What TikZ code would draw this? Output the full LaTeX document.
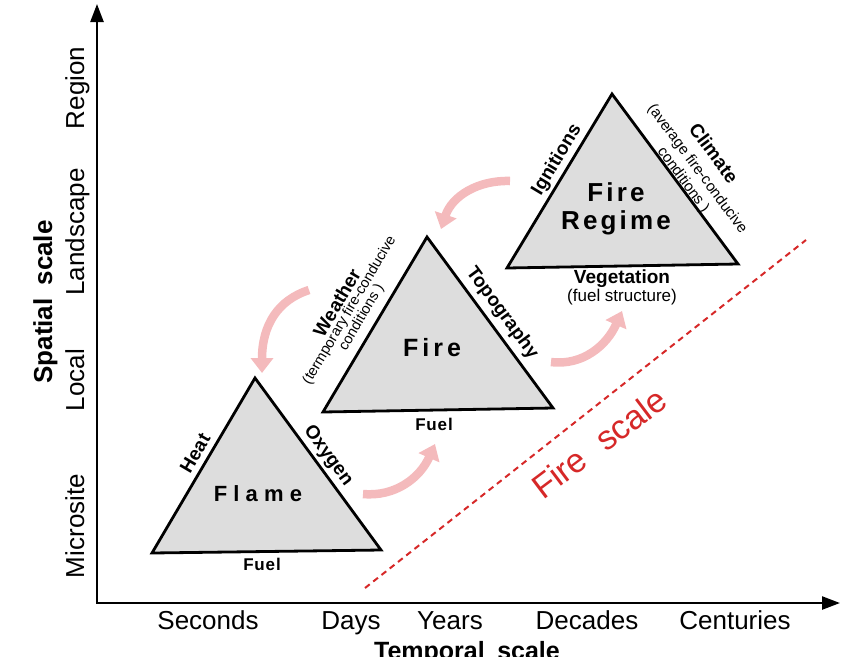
\documentclass[tikz,border=0pt]{standalone}
\usepackage{fontspec}
\setmainfont{Liberation Sans}
\usetikzlibrary{arrows.meta}
\definecolor{trigray}{RGB}{221,221,221}
\definecolor{pinkarr}{RGB}{244,186,188}
\definecolor{firered}{RGB}{214,40,40}
\begin{document}
\begin{tikzpicture}[x=1pt,y=-1pt,
  tri/.style={draw=black, line width=2.8pt, fill=trigray, line join=miter},
  axisline/.style={line width=2.4pt, {Triangle[width=13pt,length=18pt]}-{Triangle[width=13pt,length=18pt]}},
  flow/.style={draw=pinkarr, line width=8.5pt, -{Triangle[width=22pt,length=15pt]}},
  ticklab/.style={font=\fontsize{26}{26}\selectfont, anchor=base, inner sep=0pt},
  vlab/.style={font=\fontsize{26}{26}\selectfont, anchor=base, rotate=90, inner sep=0pt},
  sidelab/.style={font=\fontsize{19}{19}\selectfont\bfseries, inner sep=0pt},
  parenlab/.style={font=\fontsize{15}{15}\selectfont, inner sep=0pt},
  bigword/.style={inner sep=0pt, text=black}
]
\useasboundingbox (0,0) rectangle (858,656);

% axes
\coordinate (O) at (97,603);
\coordinate (ytip) at (97,4);
\coordinate (xtip) at (840,603);
\draw[axisline] (ytip) -- (O) -- (xtip);

% axis labels
\node[vlab] (region) at (84,88) {Region};
\node[vlab] (landscape) at (84,232) {Landscape};
\node[vlab] (local) at (84,380) {Local};
\node[vlab] (microsite) at (84,526) {Microsite};
\node[vlab, font=\fontsize{26}{26}\selectfont\bfseries] (spatial) at (52,302) {Spatial\hspace{0.5em}scale};

\node[ticklab] (seconds) at (208,629) {Seconds};
\node[ticklab] (days) at (351,629) {Days};
\node[ticklab] (years) at (450,629) {Years};
\node[ticklab] (decades) at (587,629) {Decades};
\node[ticklab] (centuries) at (735,629) {Centuries};
\node[ticklab, font=\fontsize{25}{25}\selectfont\bfseries] (temporal) at (467,659) {Temporal\hspace{0.5em}scale};

% fire scale
\coordinate (ds) at (365,588);
\coordinate (de) at (806,240);
\draw[firered, line width=2pt, dash pattern=on 6pt off 4.5pt] (ds) -- (de);
\node[rotate=37, text=firered, font=\fontsize{34}{34}\selectfont, inner sep=0pt] (firescale) at (599,443) {Fire\hspace{0.6em}scale};

% triangles
\coordinate (flA) at (255,378);
\coordinate (flB) at (152,553);
\coordinate (flC) at (381,550);
\coordinate (fiA) at (427,237);
\coordinate (fiB) at (323,412);
\coordinate (fiC) at (553,408);
\coordinate (rgA) at (612,94);
\coordinate (rgB) at (507,268);
\coordinate (rgC) at (738,264);
\draw[tri] (flA) -- (flB) -- (flC) -- cycle;
\draw[tri] (fiA) -- (fiB) -- (fiC) -- cycle;
\draw[tri] (rgA) -- (rgB) -- (rgC) -- cycle;

% flame labels
\node[bigword, font=\fontsize{22}{22}\selectfont\bfseries\addfontfeatures{LetterSpace=28}] (flame) at (258,494) {Flame};
\node[sidelab, font=\fontsize{17}{17}\selectfont\bfseries\addfontfeatures{LetterSpace=5}] (flfuel) at (262,564) {Fuel};
\node[sidelab, rotate=59.5] (heat) at (195,453) {Heat};
\node[sidelab, rotate=-53.7] (oxygen) at (328,456) {Oxygen};

% fire labels
\node[bigword, font=\fontsize{25}{25}\selectfont\bfseries\addfontfeatures{LetterSpace=16}] (fire) at (432,348) {Fire};
\node[sidelab, font=\fontsize{17}{17}\selectfont\bfseries\addfontfeatures{LetterSpace=5}] (fifuel) at (434,424) {Fuel};
\node[sidelab, rotate=59.5] (weather) at (336.8,302.6) {Weather};
\node[parenlab, font=\fontsize{14.5}{14.5}\selectfont, rotate=59.5] (weatherp1) at (349.7,310.3) {(termporary fire-conducive};
\node[parenlab, font=\fontsize{14.5}{14.5}\selectfont, rotate=59.5] (weatherp2) at (361.7,317.4) {conditions )};
\node[sidelab, rotate=-53.6] (topo) at (502,313) {Topography};

% fire regime labels
\node[bigword, font=\fontsize{26}{26}\selectfont\bfseries\addfontfeatures{LetterSpace=12}] (rgfire) at (616,192) {Fire};
\node[bigword, font=\fontsize{26}{26}\selectfont\bfseries\addfontfeatures{LetterSpace=12}] (regime) at (616,223) {Regime};
\node[sidelab] (veg) at (622,279) {Vegetation};
\node[parenlab, font=\fontsize{17}{17}\selectfont] (fuelstr) at (622,297) {(fuel structure)};
\node[sidelab, rotate=59] (ign) at (557,160) {Ignitions};
\node[sidelab, rotate=-53.5] (climate) at (714,153) {Climate};
\node[parenlab, rotate=-53.5] (climp1) at (697,169) {(average fire-conducive};
\node[parenlab, rotate=-53.5] (climp2) at (683,180) {conditions )};

% pink flows
\coordinate (a1s) at (510,181);
\coordinate (a1e) at (441,229);
\coordinate (a2s) at (309,290);
\coordinate (a2e) at (262,373);
\coordinate (a3s) at (363,494);
\coordinate (a3e) at (435,444);
\coordinate (a4s) at (551,362);
\coordinate (a4e) at (622,311);
\draw[flow] (a1s) .. controls (478,180) and (452,196) .. (a1e);
\draw[flow] (a2s) .. controls (278,300) and (262,325) .. (a2e);
\draw[flow] (a3s) .. controls (395,497) and (420,478) .. (a3e);
\draw[flow] (a4s) .. controls (583,366) and (607,345) .. (a4e);
\end{tikzpicture}
\end{document}
